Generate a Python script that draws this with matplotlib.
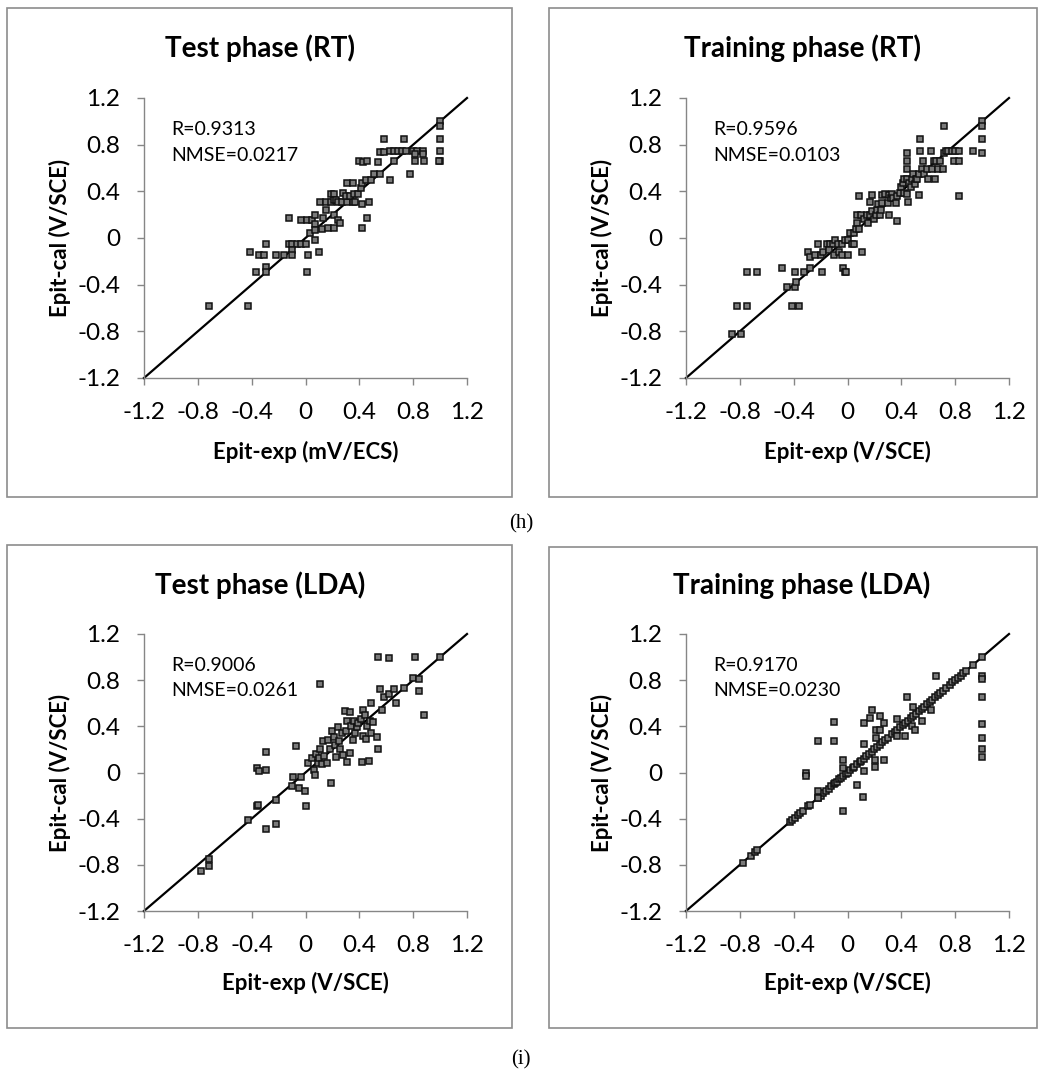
import matplotlib
matplotlib.use("Agg")
import matplotlib.pyplot as plt
from matplotlib.patches import Rectangle

plt.rcParams['font.family'] = ['Lato', 'DejaVu Sans']

# ---- data ----
# Test phase (RT)
rt_test_x = [-0.72, -0.43, -0.41, -0.37, -0.345, -0.305, -0.29, -0.29, -0.29, -0.22, -0.16,
             -0.12, -0.12, -0.10, -0.06, -0.03, -0.10, -0.10, -0.03, 0.01, 0.05, 0.0, 0.02,
             0.01, 0.03, 0.07, 0.07, 0.07, 0.07, 0.10, 0.11, 0.13, 0.15, 0.15, 0.12, 0.17,
             0.19, 0.19, 0.21, 0.21, 0.21, 0.21, 0.23, 0.24, 0.27, 0.24, 0.26, 0.28, 0.31,
             0.35, 0.31, 0.35, 0.30, 0.33, 0.36, 0.37, 0.39, 0.41, 0.42, 0.42, 0.42, 0.40,
             0.43, 0.46, 0.45, 0.49, 0.46, 0.47, 0.51, 0.54, 0.55, 0.55, 0.58, 0.58, 0.63,
             0.63, 0.66, 0.69, 0.72, 0.75, 0.66, 0.73, 0.78, 0.80, 0.83, 0.87, 0.81, 0.88,
             0.81, 0.87, 1.0, 1.0, 1.0, 1.0, 1.0, 0.99]
rt_test_y = [-0.58, -0.58, -0.12, -0.29, -0.145, -0.145, -0.05, -0.25, -0.29, -0.145, -0.145,
             0.17, -0.05, -0.05, -0.05, -0.05, -0.10, -0.145, 0.157, 0.157, 0.157, -0.05, -0.145,
             -0.29, 0.045, 0.20, 0.12, 0.07, -0.02, -0.12, 0.31, 0.17, 0.31, 0.24, 0.08, 0.09,
             0.38, 0.31, 0.38, 0.33, 0.20, 0.09, 0.33, 0.31, 0.31, 0.157, 0.125, 0.385, 0.47,
             0.47, 0.31, 0.31, 0.36, 0.36, 0.38, 0.31, 0.38, 0.43, 0.47, 0.29, 0.09, 0.66,
             0.65, 0.66, 0.50, 0.50, 0.17, 0.31, 0.55, 0.65, 0.55, 0.74, 0.74, 0.85, 0.50,
             0.75, 0.75, 0.75, 0.75, 0.75, 0.66, 0.85, 0.55, 0.75, 0.75, 0.75, 0.66, 0.66,
             0.72, 0.72, 1.0, 0.96, 0.85, 0.75, 0.66, 0.66]

# Training phase (RT)
rt_train_x = [-0.86, -0.79, -0.82, -0.75, -0.75, -0.67, -0.49, -0.45, -0.39, -0.38, -0.41,
              -0.36, -0.39, -0.32, -0.28, -0.29, -0.28, -0.24, -0.22, -0.19, -0.20, -0.18,
              -0.15, -0.13, -0.11, -0.14, -0.10, -0.09, -0.07, -0.06, -0.04, -0.02, 0.0,
              -0.04, 0.005, -0.03, -0.02, -0.01, 0.03, 0.05, 0.02, 0.05, 0.06, 0.07, 0.085,
              0.07, 0.10, 0.11, 0.085, 0.12, 0.145, 0.155, 0.17, 0.18, 0.20, 0.165, 0.185,
              0.21, 0.22, 0.23, 0.24, 0.25, 0.26, 0.26, 0.28, 0.30, 0.31, 0.31, 0.32, 0.33,
              0.34, 0.36, 0.37, 0.37, 0.39, 0.40, 0.41, 0.42, 0.44, 0.42, 0.44, 0.45, 0.44,
              0.44, 0.44, 0.46, 0.47, 0.48, 0.49, 0.50, 0.51, 0.52, 0.53, 0.53, 0.54, 0.54,
              0.55, 0.56, 0.57, 0.59, 0.60, 0.62, 0.63, 0.64, 0.65, 0.66, 0.67, 0.69, 0.71,
              0.72, 0.73, 0.75, 0.72, 0.78, 0.80, 0.83, 0.79, 0.83, 0.83, 0.93, 1.0, 1.0,
              1.0, 1.0]
rt_train_y = [-0.82, -0.82, -0.58, -0.58, -0.29, -0.29, -0.26, -0.42, -0.42, -0.38, -0.58,
              -0.58, -0.29, -0.29, -0.26, -0.12, -0.16, -0.145, -0.05, -0.29, -0.145, -0.12,
              -0.05, -0.05, -0.05, -0.10, -0.145, -0.02, -0.05, -0.12, -0.05, -0.02, -0.02,
              -0.145, -0.145, -0.26, -0.29, -0.29, -0.05, -0.05, 0.045, 0.045, 0.08, 0.125,
              0.08, 0.20, 0.20, -0.12, 0.36, 0.16, 0.20, 0.125, 0.20, 0.23, 0.16, 0.31, 0.37,
              0.20, 0.24, 0.29, 0.20, 0.24, 0.30, 0.37, 0.38, 0.30, 0.20, 0.37, 0.34, 0.38,
              0.34, 0.30, 0.15, 0.36, 0.39, 0.44, 0.47, 0.51, 0.51, 0.39, 0.38, 0.31, 0.73,
              0.66, 0.59, 0.47, 0.44, 0.51, 0.55, 0.46, 0.51, 0.51, 0.55, 0.37, 0.85, 0.75,
              0.59, 0.66, 0.55, 0.59, 0.51, 0.75, 0.59, 0.66, 0.51, 0.66, 0.59, 0.66, 0.59,
              0.73, 0.75, 0.75, 0.96, 0.75, 0.75, 0.75, 0.66, 0.66, 0.36, 0.75, 1.0, 0.96,
              0.85, 0.73]

# Test phase (LDA)
lda_test_x = [-0.78, -0.72, -0.72, -0.43, -0.36, -0.355, -0.36, -0.345, -0.29, -0.29, -0.295,
              -0.22, -0.22, -0.10, -0.09, -0.067, -0.047, -0.037, -0.007, 0.002, 0.022, 0.052,
              0.062, 0.072, 0.08, 0.09, 0.10, 0.11, 0.11, 0.12, 0.13, 0.14, 0.16, 0.17, 0.18,
              0.19, 0.20, 0.21, 0.22, 0.23, 0.24, 0.25, 0.26, 0.27, 0.28, 0.29, 0.30, 0.31,
              0.31, 0.33, 0.33, 0.34, 0.35, 0.36, 0.37, 0.38, 0.39, 0.41, 0.42, 0.43, 0.43,
              0.44, 0.45, 0.46, 0.47, 0.48, 0.49, 0.49, 0.50, 0.53, 0.54, 0.54, 0.55, 0.57,
              0.58, 0.62, 0.62, 0.66, 0.67, 0.73, 0.80, 0.81, 0.84, 0.84, 0.88, 1.0]
lda_test_y = [-0.85, -0.75, -0.81, -0.41, -0.29, -0.28, 0.035, 0.012, 0.174, 0.023, -0.49,
              -0.234, -0.45, -0.113, -0.035, 0.23, -0.136, -0.035, -0.16, -0.29, 0.08, 0.127,
              0.023, -0.023, 0.16, 0.08, 0.127, 0.77, 0.20, 0.07, 0.27, 0.14, 0.08, 0.28, 0.20,
              -0.093, 0.36, 0.31, 0.24, 0.13, 0.39, 0.27, 0.20, 0.34, 0.15, 0.53, 0.36, 0.09,
              0.45, 0.52, 0.17, 0.40, 0.28, 0.45, 0.34, 0.39, 0.43, 0.46, 0.09, 0.54, 0.32,
              0.50, 0.29, 0.40, 0.10, 0.45, 0.34, 0.60, 0.44, 0.31, 0.20, 1.0, 0.72, 0.54,
              0.65, 0.99, 0.68, 0.72, 0.60, 0.73, 0.82, 1.0, 0.81, 0.71, 0.50, 1.0]

# Training phase (LDA): points on the y = x line, then the scattered ones
lda_train_x = [-0.78, -0.72, -0.69, -0.67, -0.43, -0.41, -0.39, -0.37, -0.35, -0.33, -0.29,
               -0.28, -0.22, -0.20, -0.18, -0.16, -0.14, -0.12, -0.10, -0.09, -0.08, -0.06,
               -0.05, -0.03, -0.01, 0.0, 0.02, 0.04, 0.05, 0.07, 0.09, 0.10, 0.12, 0.14, 0.16,
               0.18, 0.20, 0.22, 0.24, 0.26, 0.28, 0.30, 0.33, 0.35, 0.37, 0.39, 0.41, 0.43,
               0.45, 0.47, 0.49, 0.51, 0.53, 0.55, 0.57, 0.59, 0.61, 0.63, 0.65, 0.67, 0.69,
               0.71, 0.73, 0.76, 0.78, 0.80, 0.82, 0.84, 0.86, 0.88, 0.93, 1.0,
               -0.31, -0.31, -0.22, -0.22, -0.22, -0.10, -0.10, -0.03, -0.03, -0.03, 0.07,
               0.115, 0.125, 0.125, 0.125, 0.165, 0.185, 0.205, 0.205, 0.215, 0.215, 0.24,
               0.24, 0.27, 0.27, 0.37, 0.37, 0.43, 0.44, 0.48, 0.49, 0.50, 0.55, 0.62, 0.66,
               1.0, 1.0, 1.0, 1.0, 1.0, 1.0, 1.0]
lda_train_y = [-0.78, -0.72, -0.69, -0.67, -0.43, -0.41, -0.39, -0.37, -0.35, -0.33, -0.29,
               -0.28, -0.22, -0.20, -0.18, -0.16, -0.14, -0.12, -0.10, -0.09, -0.08, -0.06,
               -0.05, -0.03, -0.01, 0.0, 0.02, 0.04, 0.05, 0.07, 0.09, 0.10, 0.12, 0.14, 0.16,
               0.18, 0.20, 0.22, 0.24, 0.26, 0.28, 0.30, 0.33, 0.35, 0.37, 0.39, 0.41, 0.43,
               0.45, 0.47, 0.49, 0.51, 0.53, 0.55, 0.57, 0.59, 0.61, 0.63, 0.65, 0.67, 0.69,
               0.71, 0.73, 0.76, 0.78, 0.80, 0.82, 0.84, 0.86, 0.88, 0.93, 1.0,
               0.0, -0.03, 0.27, -0.16, -0.22, 0.44, 0.27, 0.11, 0.035, -0.33, -0.11,
               -0.21, 0.43, 0.25, 0.01, 0.47, 0.54, 0.11, 0.05, 0.37, 0.30, 0.49,
               0.37, 0.425, 0.11, 0.46, 0.32, 0.32, 0.65, 0.40, 0.57, 0.37, 0.445, 0.54, 0.84,
               0.84, 0.81, 0.65, 0.42, 0.30, 0.20, 0.13]

titles = ["Test phase (RT)", "Training phase (RT)", "Test phase (LDA)", "Training phase (LDA)"]
xlabels = ["Epit-exp (mV/ECS)", "Epit-exp (V/SCE)", "Epit-exp (V/SCE)", "Epit-exp (V/SCE)"]
ylabel = "Epit-cal (V/SCE)"
r_texts = ["R=0.9313", "R=0.9596", "R=0.9006", "R=0.9170"]
nmse_texts = ["NMSE=0.0217", "NMSE=0.0103", "NMSE=0.0261", "NMSE=0.0230"]
ticks = [-1.2, -0.8, -0.4, 0, 0.4, 0.8, 1.2]
tick_labels = ["-1.2", "-0.8", "-0.4", "0", "0.4", "0.8", "1.2"]

xs = [rt_test_x, rt_train_x, lda_test_x, lda_train_x]
ys = [rt_test_y, rt_train_y, lda_test_y, lda_train_y]

W, H = 1044, 1077
fig = plt.figure(figsize=(W / 100, H / 100), dpi=100)

# axes boxes in pixels: (left, top, right, bottom)
boxes = [(144, 98, 467, 378), (686, 98, 1009, 378),
         (144, 634, 467, 911), (686, 634, 1009, 911)]
# outer chart borders in pixels
frames = [(7, 8, 512, 497), (549, 8, 1037, 497),
          (7, 545, 512, 1028), (549, 547, 1037, 1028)]
title_x = [260, 802, 260, 802]
title_y = [48, 48, 585, 585]
xlabel_y = [452, 452, 983, 983]
ylabel_x = [60, 602, 60, 602]

for fx0, fy0, fx1, fy1 in frames:
    fig.patches.append(Rectangle((fx0 / W, 1 - fy1 / H), (fx1 - fx0) / W, (fy1 - fy0) / H,
                                 transform=fig.transFigure, fill=False,
                                 edgecolor="#8c8c8c", linewidth=1.2))

for i in range(4):
    l, t, r, b = boxes[i]
    ax = fig.add_axes([l / W, 1 - b / H, (r - l) / W, (b - t) / H])
    ax.plot([-1.2, 1.2], [-1.2, 1.2], color="black", linewidth=1.6, zorder=2, clip_on=False)
    ax.plot(xs[i], ys[i], linestyle="none", marker="s", markersize=5.0,
            markerfacecolor="#7a7a7a", markeredgecolor="#111111", markeredgewidth=1.1,
            zorder=3, clip_on=False)
    ax.set_xlim(-1.2, 1.2)
    ax.set_ylim(-1.2, 1.2)
    ax.set_xticks(ticks)
    ax.set_yticks(ticks)
    ax.set_xticklabels(tick_labels)
    ax.set_yticklabels(tick_labels)
    ax.tick_params(labelsize=17.5, length=5, width=1, color="#868686", pad=12)
    for s in ["top", "right"]:
        ax.spines[s].set_visible(False)
    for s in ["left", "bottom"]:
        ax.spines[s].set_color("#868686")
        ax.spines[s].set_linewidth(1)
    ax.text(-1.0, 0.93, r_texts[i], fontsize=14, va="center", ha="left")
    ax.text(-1.0, 0.71, nmse_texts[i], fontsize=14, va="center", ha="left")

    cx = (l + r) / 2
    fig.text(title_x[i] / W, 1 - title_y[i] / H, titles[i], fontsize=20,
             fontweight="bold", ha="center", va="center")
    fig.text(cx / W, 1 - xlabel_y[i] / H, xlabels[i], fontsize=16, fontweight="bold",
             ha="center", va="center")
    fig.text(ylabel_x[i] / W, 1 - (t + b) / 2 / H, ylabel, fontsize=16, fontweight="bold",
             ha="center", va="center", rotation=90)

fig.text(521 / W, 1 - 524 / H, "(h)", fontsize=15, family="Liberation Serif",
         ha="center", va="center")
fig.text(521 / W, 1 - 1060 / H, "(i)", fontsize=15, family="Liberation Serif",
         ha="center", va="center")

fig.savefig("out.png", dpi=100)
